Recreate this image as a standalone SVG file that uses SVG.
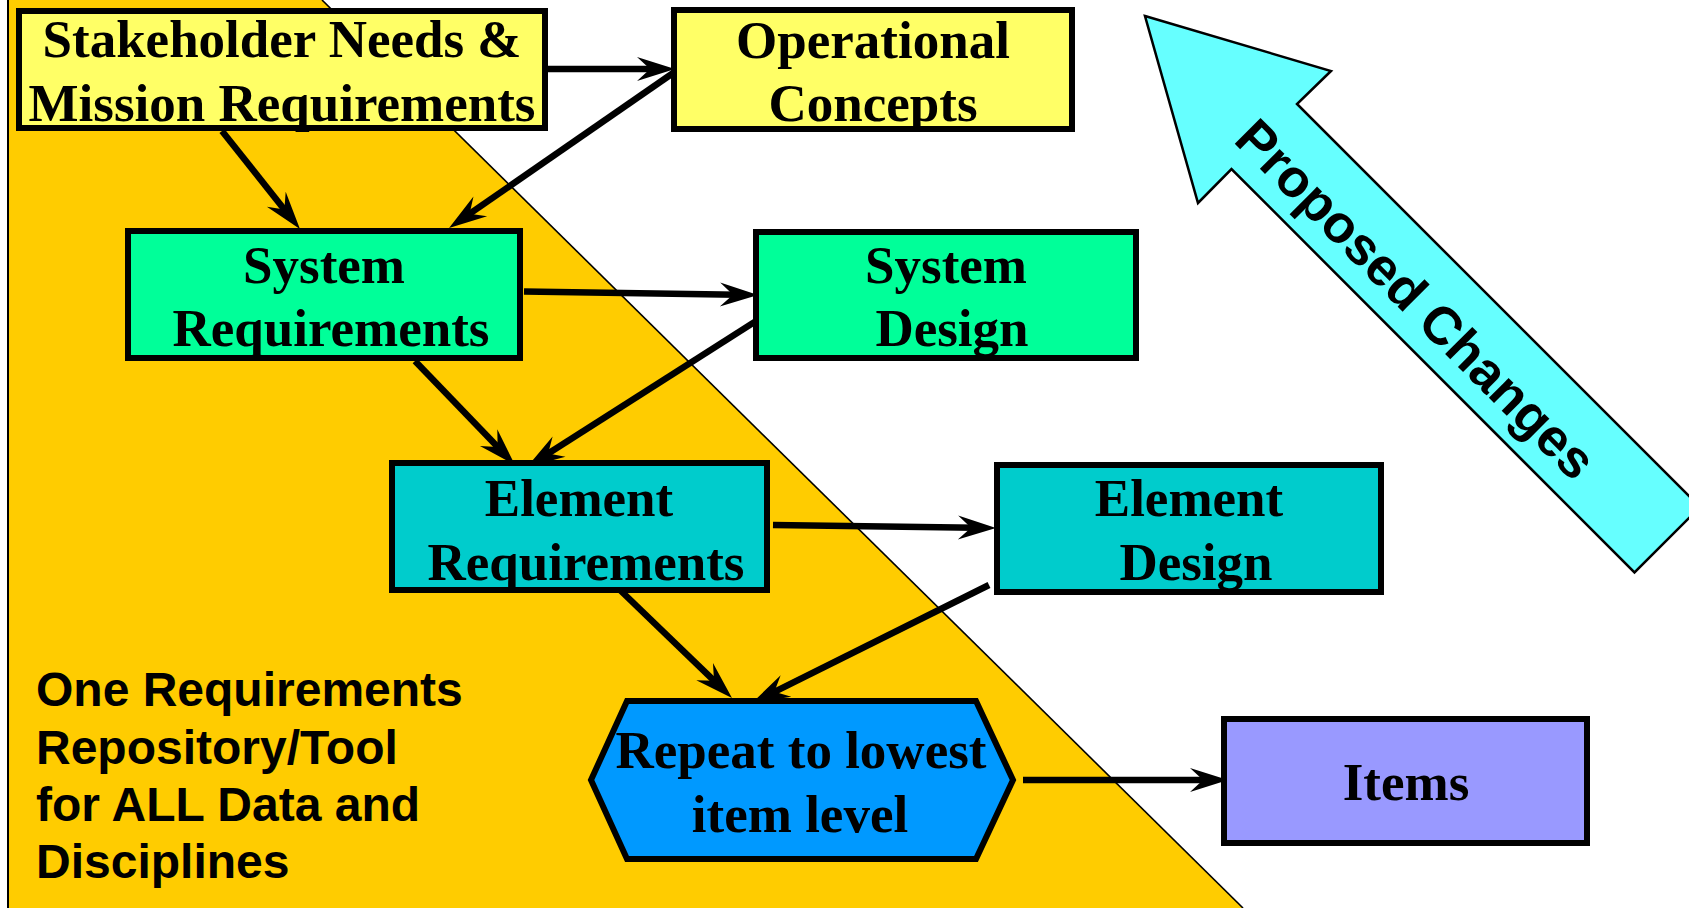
<svg xmlns="http://www.w3.org/2000/svg" width="1689" height="908" viewBox="0 0 1689 908">
<style>
.box{stroke:#000;stroke-width:6}
.t{font-family:"Liberation Serif","Times New Roman",serif;font-weight:bold;font-size:53px;fill:#000;text-anchor:middle}
.s{font-family:"Liberation Sans",Arial,sans-serif;font-weight:bold;fill:#000}
.c{stroke:#000;stroke-width:6.5;fill:none;marker-end:url(#ah)}
</style>
<defs>
<marker id="ah" markerUnits="userSpaceOnUse" viewBox="-20 -15 42 30" refX="0" refY="0" markerWidth="42" markerHeight="30" orient="auto" overflow="visible">
<path d="M20,0 L-18,-12 L-5,0 L-18,12 Z" fill="#000"/>
</marker>
</defs>
<rect width="1689" height="908" fill="#fff"/>
<g id="background">
<polygon points="8,0 322,0 1243,908 8,908" fill="#FFCC00"/>
<line x1="8" y1="0" x2="8" y2="908" stroke="#000" stroke-width="2"/>
<line x1="322" y1="0" x2="1243" y2="908" stroke="#000" stroke-width="1.6"/>
</g>
<g id="proposed-changes">
<polygon points="1145,16 1331,71 1297,104 1700,507 1634.5,572.5 1231.5,169 1198,203" fill="#66FFFF" stroke="#000" stroke-width="2.5"/>
<text class="s" font-size="53" text-anchor="middle" transform="translate(1403,312) rotate(45)">Proposed Changes</text>
</g>
<g id="repository-note">
<text class="s" font-size="48" x="36" y="706">One Requirements</text>
<text class="s" font-size="48" x="36" y="764">Repository/Tool</text>
<text class="s" font-size="48" x="36" y="821">for ALL Data and</text>
<text class="s" font-size="48" x="36" y="878">Disciplines</text>
</g>
<g id="connectors">
<line class="c" x1="548" y1="69" x2="655" y2="69"/>
<line class="c" x1="676" y1="71" x2="465.5" y2="216.7"/>
<line class="c" x1="222" y1="131" x2="287.5" y2="213.4"/>
<line class="c" x1="524" y1="291.5" x2="738" y2="294.7"/>
<line class="c" x1="764" y1="316" x2="543.9" y2="456.3"/>
<line class="c" x1="415" y1="361" x2="501.1" y2="450.6"/>
<line class="c" x1="773" y1="525" x2="976" y2="527.7"/>
<line class="c" x1="989" y1="585" x2="769.9" y2="694.1"/>
<line class="c" x1="620" y1="590" x2="717.6" y2="684.1"/>
<line class="c" x1="1023" y1="780" x2="1208" y2="780"/>
</g>
<g id="stakeholder-needs">
<rect class="box" x="19" y="11" width="526" height="117" fill="#FFFF66"/>
<text class="t" x="282" y="57">Stakeholder Needs &amp;</text>
<text class="t" x="282" y="121">Mission Requirements</text>
</g>
<g id="operational-concepts">
<rect class="box" x="674" y="10" width="398" height="119" fill="#FFFF66"/>
<text class="t" x="873" y="58">Operational</text>
<text class="t" x="873" y="121">Concepts</text>
</g>
<g id="system-requirements">
<rect class="box" x="128" y="231" width="392" height="127" fill="#00FF99"/>
<text class="t" x="324" y="283">System</text>
<text class="t" x="331" y="346">Requirements</text>
</g>
<g id="system-design">
<rect class="box" x="756" y="232" width="380" height="126" fill="#00FF99"/>
<text class="t" x="946" y="283">System</text>
<text class="t" x="952" y="346">Design</text>
</g>
<g id="element-requirements">
<rect class="box" x="392" y="463" width="375" height="127" fill="#00CCCC"/>
<text class="t" x="579" y="516">Element</text>
<text class="t" x="586" y="580">Requirements</text>
</g>
<g id="element-design">
<rect class="box" x="997" y="465" width="384" height="127" fill="#00CCCC"/>
<text class="t" x="1189" y="516">Element</text>
<text class="t" x="1196" y="580">Design</text>
</g>
<g id="repeat">
<polygon class="box" points="627,701 976,701 1013,780 976,859 627,859 591,780" fill="#0099FF"/>
<text class="t" x="801" y="768">Repeat to lowest</text>
<text class="t" x="800" y="832">item level</text>
</g>
<g id="items">
<rect class="box" x="1224" y="719" width="363" height="124" fill="#9999FF"/>
<text class="t" x="1406" y="800">Items</text>
</g>
</svg>
